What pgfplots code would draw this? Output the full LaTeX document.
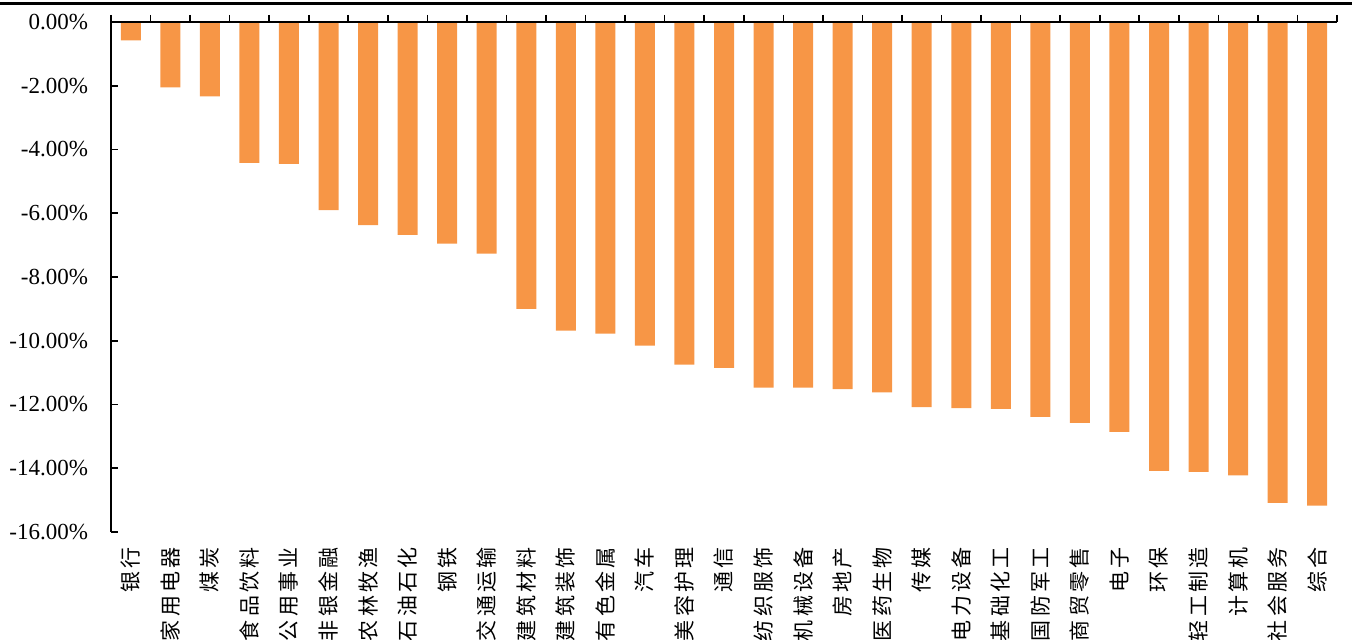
\documentclass[border=0pt]{standalone}
\usepackage{pgfplots}
\pgfplotsset{compat=1.18}
\usepackage{fontspec}
\setmainfont{Liberation Serif}
\newfontfamily\cjk[LetterSpace=16]{Noto Sans CJK SC}
\definecolor{barorange}{HTML}{F79646}
\begin{document}
\begin{tikzpicture}
\useasboundingbox (0,0) rectangle (678.5pt,-320pt);
\draw[line width=1.5pt] (0,-1.75pt) -- (676pt,-1.75pt);
\pgfplotsset{common/.style={width=613pt,height=255pt,scale only axis,at={(55.5pt,-11pt)},anchor=north west,xmin=-0.5,xmax=30.5,ymin=-16,ymax=0}}
\begin{axis}[common,
  axis line style={draw=none}, major tick length=0pt,
  xtick={0,1,...,30},
  xticklabels={银行,家用电器,煤炭,食品饮料,公用事业,非银金融,农林牧渔,石油石化,钢铁,交通运输,建筑材料,建筑装饰,有色金属,汽车,美容护理,通信,纺织服饰,机械设备,房地产,医药生物,传媒,电力设备,基础化工,国防军工,商贸零售,电子,环保,轻工制造,计算机,社会服务,综合},
  xticklabel style={rotate=90, anchor=east, font=\cjk\fontsize{10.5}{12}\selectfont, yshift=0pt, xshift=-4pt},
  ytick={-16,-14,...,0},
  /pgf/number format/assume math mode=true,
  yticklabel={\pgfmathprintnumber[fixed,fixed zerofill,precision=2]{\tick}\%},
  yticklabel style={font=\fontsize{11.5}{13}\selectfont, xshift=-8pt},
]
\addplot[ybar, bar width=10pt, fill=barorange, draw=none] coordinates {
(0,-0.58) (1,-2.05) (2,-2.33) (3,-4.42) (4,-4.45) (5,-5.90) (6,-6.37) (7,-6.68)
(8,-6.95) (9,-7.27) (10,-9.00) (11,-9.68) (12,-9.78) (13,-10.15) (14,-10.75)
(15,-10.85) (16,-11.47) (17,-11.47) (18,-11.52) (19,-11.62) (20,-12.08)
(21,-12.11) (22,-12.14) (23,-12.39) (24,-12.58) (25,-12.86) (26,-14.08)
(27,-14.11) (28,-14.22) (29,-15.09) (30,-15.17)};
\end{axis}
\begin{axis}[common, axis x line=none, axis y line*=left,
  ytick={-16,-14,...,0}, yticklabels={},
  tick align=inside, major tick length=3.5pt,
  axis line style={line width=0.8pt, black},
  tick style={line width=0.8pt, black}]
\end{axis}
\begin{axis}[common, axis y line=none, axis x line*=top,
  xtick={-0.5,0.5,...,30.5}, xticklabels={},
  tick align=outside, major tick length=3.5pt,
  axis line style={line width=0.8pt, black},
  tick style={line width=0.8pt, black}]
\end{axis}
\end{tikzpicture}
\end{document}
